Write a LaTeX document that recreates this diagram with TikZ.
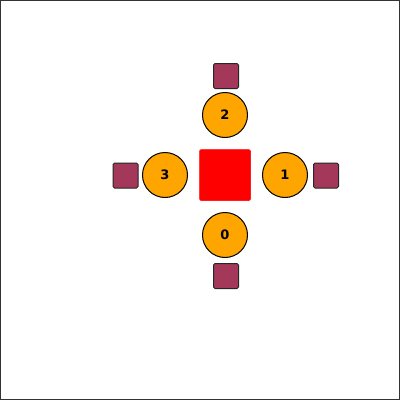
\documentclass[tikz,border=0pt]{standalone}
\usepackage{fontspec}
\setmainfont{DejaVu Sans}
\definecolor{plum}{HTML}{A3385A}
\definecolor{orng}{HTML}{FFA500}
\begin{document}
\begin{tikzpicture}[x=1pt,y=-1pt,
  hub/.style={fill=red,draw=red,line width=0.5pt,rounded corners=1.5pt,minimum size=51pt,inner sep=0pt},
  port/.style={circle,fill=orng,draw=black,line width=1pt,minimum size=45pt,inner sep=0pt,font=\fontsize{13}{13}\selectfont\bfseries},
  term/.style={fill=plum,draw=black!85,line width=1pt,rounded corners=1.5pt,minimum size=25pt,inner sep=0pt}]
\useasboundingbox (0,0) rectangle (400,400);
\draw[line width=1pt, black!80] (0.5,0.5) rectangle (399.5,399.5);
\node[hub] (c) at (225,175) {};
\node[port] (p0) at (225,235) {0};
\node[port] (p1) at (285,175) {1};
\node[port] (p2) at (225,115) {2};
\node[port] (p3) at (165,175) {3};
\node[term] (t0) at (226,276) {};
\node[term] (t1) at (326,175.5) {};
\node[term] (t2) at (226,76) {};
\node[term] (t3) at (125.5,175.5) {};
\end{tikzpicture}
\end{document}
